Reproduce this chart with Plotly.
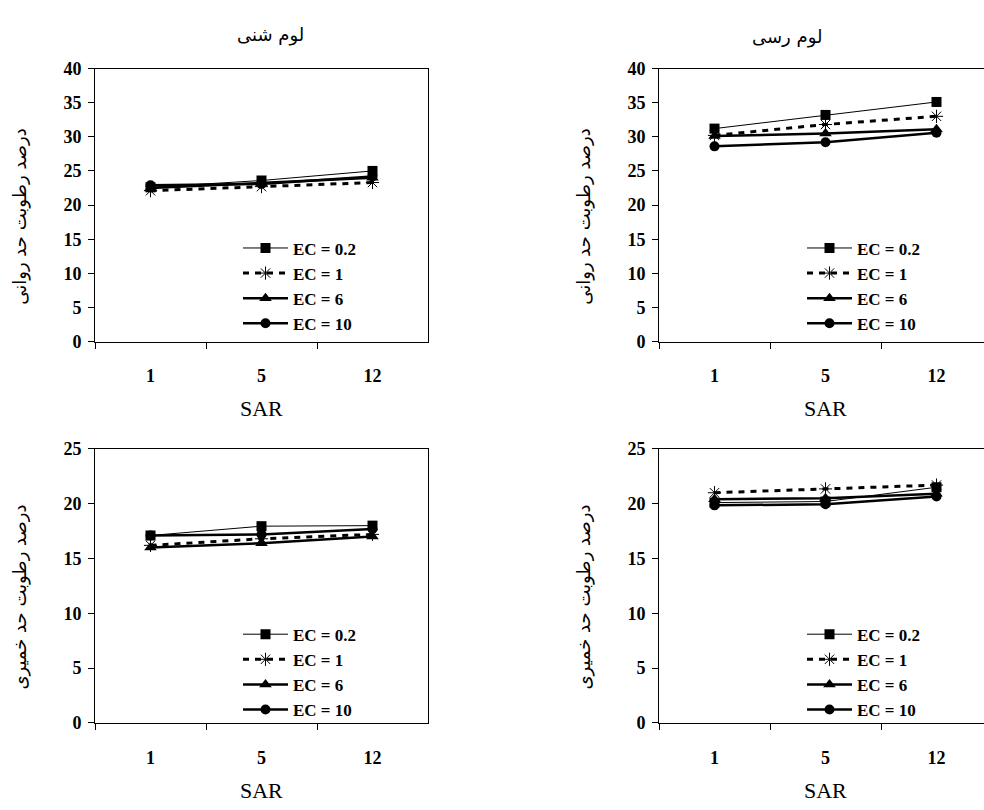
import plotly.graph_objects as go

# ---------------- data ----------------
sar = ["1", "5", "12"]
ec_labels = ["EC = 0.2", "EC = 1", "EC = 6", "EC = 10"]

# liquid limit, sandy loam (لوم شنی)
ll_sandy_ec02 = [22.6, 23.6, 25.0]
ll_sandy_ec1 = [22.1, 22.7, 23.3]
ll_sandy_ec6 = [22.5, 23.2, 24.0]
ll_sandy_ec10 = [22.9, 23.1, 24.2]

# liquid limit, clay loam (لوم رسی)
ll_clay_ec02 = [31.2, 33.2, 35.1]
ll_clay_ec1 = [30.2, 31.8, 33.0]
ll_clay_ec6 = [30.1, 30.5, 31.1]
ll_clay_ec10 = [28.6, 29.2, 30.6]

# plastic limit, sandy loam
pl_sandy_ec02 = [17.1, 17.95, 18.0]
pl_sandy_ec1 = [16.2, 16.8, 17.2]
pl_sandy_ec6 = [16.0, 16.4, 17.0]
pl_sandy_ec10 = [17.1, 17.2, 17.7]

# plastic limit, clay loam
pl_clay_ec02 = [20.1, 20.2, 21.5]
pl_clay_ec1 = [21.0, 21.35, 21.7]
pl_clay_ec6 = [20.4, 20.5, 20.9]
pl_clay_ec10 = [19.85, 19.95, 20.65]

titles = ["لوم شنی", "لوم رسی"]
ytitle_ll = "درصد رطوبت حد روانی"
ytitle_pl = "درصد رطوبت حد خمیری"
xtitle = "SAR"

# ---------------- styling ----------------
W, H = 984, 810
serif = "Liberation Serif, Times New Roman, serif"
bold_serif = dict(family=serif, size=18, color="black", weight="bold")
persian = "DejaVu Sans, Arial, sans-serif"

styles = [
    dict(line=dict(color="black", width=1), marker=dict(symbol="square", size=10, color="black")),
    dict(line=dict(color="black", width=3, dash="6px,6px"),
         marker=dict(symbol="asterisk-open", size=11, color="black", line=dict(color="black", width=1))),
    dict(line=dict(color="black", width=2.5), marker=dict(symbol="triangle-up", size=11, color="black")),
    dict(line=dict(color="black", width=2.5), marker=dict(symbol="circle", size=10, color="black")),
]

panels = [
    dict(x0=95, x1=428, yt=60, yb=340, xr=2.5, yr=[0, 40],
         series=[ll_sandy_ec02, ll_sandy_ec1, ll_sandy_ec6, ll_sandy_ec10], mirror=True),
    dict(x0=659, x1=984, yt=60, yb=340, xr=-0.5 + 325 / 111.0, yr=[0, 40],
         series=[ll_clay_ec02, ll_clay_ec1, ll_clay_ec6, ll_clay_ec10], mirror=False),
    dict(x0=95, x1=428, yt=450, yb=731, xr=2.5, yr=[0, 25],
         series=[pl_sandy_ec02, pl_sandy_ec1, pl_sandy_ec6, pl_sandy_ec10], mirror=True),
    dict(x0=659, x1=984, yt=450, yb=731, xr=-0.5 + 325 / 111.0, yr=[0, 25],
         series=[pl_clay_ec02, pl_clay_ec1, pl_clay_ec6, pl_clay_ec10], mirror=False),
]

fig = go.Figure()
layout = dict(
    width=W, height=H, margin=dict(l=0, r=0, t=0, b=0),
    paper_bgcolor="white", plot_bgcolor="white",
    showlegend=True, annotations=[],
)

for i, p in enumerate(panels):
    n = "" if i == 0 else str(i + 1)
    xa, ya = "x" + n, "y" + n
    leg = "legend" + n
    for j, ys in enumerate(p["series"]):
        fig.add_trace(go.Scatter(
            x=sar, y=ys, mode="lines+markers", name=ec_labels[j],
            xaxis=xa, yaxis=ya, legend=leg, cliponaxis=False, **styles[j]))
    layout["xaxis" + n] = dict(
        domain=[p["x0"] / W, p["x1"] / W], anchor=ya, type="category",
        range=[-0.5, p["xr"]], tickson="boundaries", ticks="outside", ticklen=6,
        tickcolor="black", tickwidth=1, showline=True, linecolor="black", linewidth=1,
        mirror=True, showgrid=False, zeroline=False, tickfont=bold_serif,
        ticklabelstandoff=18, fixedrange=True)
    layout["yaxis" + n] = dict(
        domain=[1 - p["yb"] / H, 1 - p["yt"] / H], anchor=xa,
        range=p["yr"], dtick=5, ticks="outside", ticklen=6, tickcolor="black", tickwidth=1,
        showline=True, linecolor="black", linewidth=1, mirror=p["mirror"],
        showgrid=False, zeroline=False, tickfont=bold_serif, ticklabelstandoff=3,
        fixedrange=True)
    lx = (p["x0"] + 143) / W
    ly = 1 - (p["yt"] + 166 if p["yt"] == 60 else p["yt"] + 172) / H
    layout[leg] = dict(
        x=lx, y=ly, xanchor="left", yanchor="top", bgcolor="rgba(0,0,0,0)",
        borderwidth=0, font=dict(family=serif, size=17, color="black", weight="bold"),
        itemwidth=45, traceorder="normal", tracegroupgap=0)
    # SAR axis title
    cx = (p["x0"] + (p["x0"] + 333)) / 2
    layout["annotations"].append(dict(
        text=xtitle, x=cx / W, y=1 - (p["yb"] + 69) / H, xref="paper", yref="paper",
        showarrow=False, font=dict(family=serif, size=22, color="black"),
        xanchor="center", yanchor="middle"))
    # y title (Persian)
    ytxt = ytitle_ll if p["yt"] == 60 else ytitle_pl
    ycenter = (p["yt"] + p["yb"]) / 2 + 12
    layout["annotations"].append(dict(
        text=ytxt, x=(p["x0"] - 75) / W, y=1 - ycenter / H, xref="paper", yref="paper",
        showarrow=False, textangle=-90, font=dict(family=persian, size=18, color="black"),
        xanchor="center", yanchor="middle"))

# panel titles
layout["annotations"].append(dict(
    text=titles[0], x=270 / W, y=1 - 26 / H, xref="paper", yref="paper", showarrow=False,
    font=dict(family=persian, size=18, color="black"), xanchor="center", yanchor="middle"))
layout["annotations"].append(dict(
    text=titles[1], x=787 / W, y=1 - 28 / H, xref="paper", yref="paper", showarrow=False,
    font=dict(family=persian, size=18, color="black"), xanchor="center", yanchor="middle"))

fig.update_layout(**layout)
fig.write_html("out.html")
